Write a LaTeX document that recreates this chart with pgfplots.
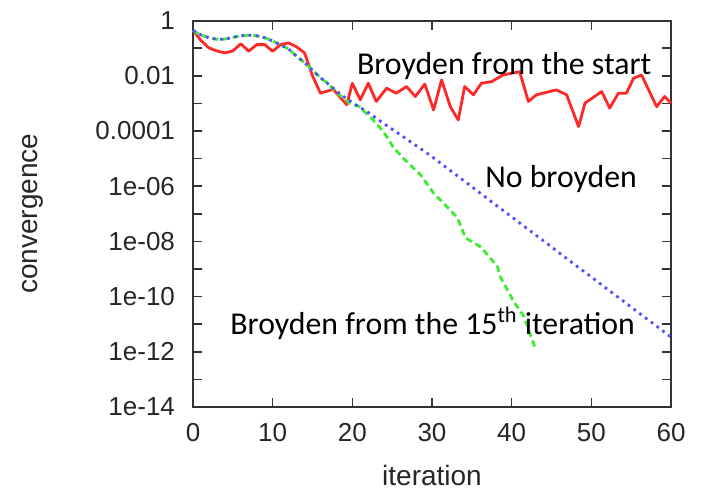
\documentclass[border=0pt]{standalone}
\usepackage{fontspec}
\setmainfont{Liberation Sans}
\newfontfamily\calibri{Carlito}
\usepackage{pgfplots}
\usepackage{pgfplotstable}
\pgfplotsset{compat=1.18}

\pgfplotstableread{
x e
0 -0.35
1 -0.72
2 -0.99
3 -1.1
4 -1.17
5 -1.1
6 -0.84
7 -1.11
8 -0.87
9 -0.87
10 -1.11
11 -0.87
12 -0.81
13 -0.95
14 -1.17
15 -2.0
16 -2.63
17.6 -2.49
19.3 -3.05
20 -2.27
21 -2.87
22 -2.27
23 -2.93
24.3 -2.45
25.5 -2.63
26.8 -2.39
27.9 -2.75
29.1 -2.3
30.2 -3.24
31.2 -2.15
32.3 -3.12
33.3 -3.6
34.1 -2.39
35.2 -2.69
36.2 -2.27
37.5 -2.21
38.9 -1.97
41 -1.85
42.1 -2.93
43.1 -2.69
45.6 -2.51
46.9 -2.69
48.4 -3.84
49.2 -2.99
51.3 -2.57
52.3 -3.17
53.4 -2.63
54.4 -2.63
55.3 -2.09
56.3 -1.97
58.2 -3.12
59.2 -2.75
60 -2.99
}\red

\pgfplotstableread{
x e
0 -0.36
1 -0.52
2 -0.62
3 -0.68
4 -0.67
5 -0.61
6 -0.55
7 -0.53
8 -0.55
9 -0.62
10 -0.74
11 -0.88
12 -1.03
13 -1.29
14 -1.52
15 -1.8
16 -2.07
17 -2.3
18 -2.55
19 -2.77
20 -2.97
22 -3.33
24 -3.74
26 -4.13
28 -4.53
30 -4.93
32 -5.37
34 -5.80
36 -6.24
38 -6.68
40 -7.11
42 -7.55
44 -7.98
46 -8.42
48 -8.86
50 -9.29
52 -9.73
54 -10.16
56 -10.60
58 -11.03
60 -11.47
}\blue

\pgfplotstableread{
x e
0 -0.36
1 -0.52
2 -0.62
3 -0.68
4 -0.67
5 -0.61
6 -0.55
7 -0.53
8 -0.55
9 -0.62
10 -0.74
11 -0.88
12 -1.03
13 -1.29
14 -1.52
15 -1.8
16 -2.07
17 -2.3
18 -2.6
19.7 -3.0
20.9 -3.12
22.6 -3.6
23.9 -4.02
25.1 -4.57
26.2 -4.93
28.6 -5.6
30.2 -6.25
32.3 -6.87
33.2 -7.15
34.2 -7.87
36.1 -8.2
38.2 -8.9
38.6 -9.3
40.3 -10.2
41.5 -10.7
43 -11.9
}\green

\begin{document}
\begin{tikzpicture}
\path[use as bounding box] (-96.5pt,-41.5pt) rectangle (256pt,203.5pt);
\begin{axis}[
  scale only axis,
  width=239pt, height=193.2pt,
  at={(0,0)}, anchor=south west,
  ymode=log,
  xmin=0, xmax=60, ymin=1e-14, ymax=1,
  xtick={0,10,...,60},
  ytick={1e-14,1e-13,1e-12,1e-11,1e-10,1e-9,1e-8,1e-7,1e-6,1e-5,1e-4,1e-3,1e-2,1e-1,1},
  yticklabels={1e-14,,1e-12,,1e-10,,1e-08,,1e-06,,0.0001,,0.01,,1},
  minor tick num=0,
  yminorticks=false,
  xminorticks=false,
  tick align=inside,
  major tick length=4.5pt,
  tick style={black!80, line width=0.8pt},
  axis line style={black!80, line width=1pt},
  /pgf/number format/assume math mode=true,
  tick label style={font=\fontsize{13}{15}\selectfont, text=black!85},
  xticklabel style={yshift=-4.5pt},
  yticklabel style={xshift=-5.5pt},
  label style={font=\fontsize{14}{16}\selectfont, text=black!85},
  xlabel={iteration},
  ylabel={convergence},
  xlabel style={at={(axis description cs:0.5,-0.176)}, anchor=center},
  ylabel style={at={(axis description cs:-0.335,0.5)}, anchor=center, rotate=0},
  clip=false,
]
\addplot[color={rgb,255:red,255;green,40;blue,40}, line width=1.4pt, line join=round] table[x=x, y expr=10^(\thisrow{e})] {\red};
\addplot[color={rgb,255:red,60;green,235;blue,50}, line width=1.4pt, dash pattern=on 3.2pt off 2pt] table[x=x, y expr=10^(\thisrow{e})] {\green};
\addplot[color={rgb,255:red,80;green,80;blue,255}, line width=1.4pt, dash pattern=on 1.4pt off 2.2pt] table[x=x, y expr=10^(\thisrow{e})] {\blue};
\node[anchor=base west, font=\calibri\fontsize{15.9}{18}\selectfont, inner sep=0pt] at (axis cs:20.54,1.07e-2) {Broyden from the start};
\node[anchor=base west, font=\calibri\fontsize{15.9}{18}\selectfont, inner sep=0pt] at (axis cs:36.64,9.3e-7) {No broyden};
\node[anchor=base west, font=\calibri\fontsize{15.9}{18}\selectfont, inner sep=0pt] at (axis cs:4.64,4.07e-12) {Broyden from the 15\textsuperscript{th} iteration};
\end{axis}
\end{tikzpicture}
\end{document}
